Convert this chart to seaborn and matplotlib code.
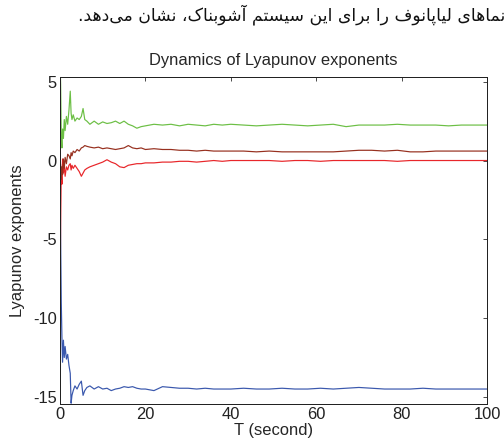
import seaborn as sns
import matplotlib.pyplot as plt
import pandas as pd

# time (s) and the four Lyapunov exponent curves
t = [0, 0.15, 0.3, 0.45, 0.6, 0.8, 1.0, 1.2, 1.5, 1.8,
     2.1, 2.4, 2.6, 2.8, 3.1, 3.5, 4.0, 4.5, 5.0, 5.4,
     5.8, 6.3, 7, 8, 9, 10, 11, 12, 13, 14,
     15, 16, 17, 18, 19, 20, 22, 24, 26, 28,
     30, 32, 34, 36, 38, 40, 43, 46, 49, 52,
     55, 58, 61, 64, 67, 70, 73, 76, 79, 82,
     85, 88, 91, 94, 97, 100]

lambda_1 = [6.5, 4.8, 1.5, 0.8, 2.0, 1.4, 2.6, 1.9, 2.8, 2.3,
            3.2, 4.4, 3.0, 2.6, 2.9, 2.5, 2.7, 2.6, 2.8, 3.3,
            2.6, 2.5, 2.3, 2.5, 2.3, 2.45, 2.35, 2.4, 2.5, 2.35,
            2.5, 2.3, 2.2, 2.05, 2.15, 2.2, 2.3, 2.25, 2.3, 2.2,
            2.3, 2.25, 2.2, 2.3, 2.25, 2.3, 2.25, 2.2, 2.25, 2.3,
            2.25, 2.2, 2.25, 2.3, 2.15, 2.25, 2.25, 2.25, 2.3, 2.25,
            2.25, 2.25, 2.2, 2.25, 2.25, 2.25]

lambda_2 = [0.0, -0.3, -1.2, -0.4, -0.9, 0.1, -0.5, 0.2, -0.2, 0.4,
            0.3, 0.1, 0.5, 0.3, 0.6, 0.5, 0.7, 0.6, 0.8, 0.85,
            0.95, 0.9, 0.85, 0.8, 0.85, 0.75, 0.8, 0.75, 0.7, 0.75,
            0.8, 0.95, 0.8, 0.75, 0.8, 0.7, 0.75, 0.7, 0.7, 0.65,
            0.65, 0.6, 0.65, 0.6, 0.6, 0.6, 0.6, 0.55, 0.6, 0.55,
            0.55, 0.55, 0.55, 0.55, 0.6, 0.65, 0.65, 0.6, 0.65, 0.55,
            0.55, 0.6, 0.6, 0.6, 0.6, 0.6]

lambda_3 = [-9.0, -4.0, -0.5, -1.5, 0.1, -0.8, -0.3, -1.0, -0.4, -0.6,
            -0.3, -0.2, -0.6, -0.3, -0.5, -0.3, -0.5, -0.7, -1.0, -0.8,
            -0.6, -0.5, -0.4, -0.3, -0.2, -0.1, 0.05, -0.1, -0.2, -0.4,
            -0.45, -0.3, -0.25, -0.2, -0.2, -0.15, -0.15, -0.1, -0.1, -0.05,
            -0.05, -0.1, -0.05, 0.0, -0.05, 0.0, 0.0, 0.0, 0.0, -0.05,
            0.0, 0.0, -0.05, 0.0, 0.0, 0.0, 0.0, 0.0, -0.05, 0.0,
            0.0, 0.0, 0.0, 0.0, 0.0, 0.0]

lambda_4 = [0.0, -5.0, -9.0, -11.2, -12.8, -11.4, -12.5, -11.8, -12.6, -12.3,
            -13.0, -13.5, -15.4, -14.9, -14.6, -14.3, -14.5, -14.2, -14.0, -14.9,
            -14.6, -14.4, -14.3, -14.5, -14.35, -14.5, -14.45, -14.6, -14.5, -14.45,
            -14.35, -14.4, -14.35, -14.45, -14.5, -14.5, -14.6, -14.35, -14.4, -14.45,
            -14.45, -14.5, -14.45, -14.5, -14.5, -14.5, -14.45, -14.5, -14.5, -14.45,
            -14.5, -14.5, -14.45, -14.5, -14.45, -14.4, -14.45, -14.5, -14.5, -14.5,
            -14.45, -14.5, -14.5, -14.5, -14.5, -14.5]

colors = ["#3a58ad", "#e8262a", "#97301f", "#6cbf45"]

caption = "نماهای لیاپانوف را برای این سیستم آشوبناک، نشان می\u200cدهد."

# Arabic/Persian letter forms: isolated, final, initial, medial
forms = {
    "ا": ("\uFE8D", "\uFE8E", None, None),
    "آ": ("\uFE81", "\uFE82", None, None),
    "د": ("\uFEA9", "\uFEAA", None, None),
    "ر": ("\uFEAD", "\uFEAE", None, None),
    "و": ("\uFEED", "\uFEEE", None, None),
    "ب": ("\uFE8F", "\uFE90", "\uFE91", "\uFE92"),
    "پ": ("\uFB56", "\uFB57", "\uFB58", "\uFB59"),
    "ت": ("\uFE95", "\uFE96", "\uFE97", "\uFE98"),
    "س": ("\uFEB1", "\uFEB2", "\uFEB3", "\uFEB4"),
    "ش": ("\uFEB5", "\uFEB6", "\uFEB7", "\uFEB8"),
    "ف": ("\uFED1", "\uFED2", "\uFED3", "\uFED4"),
    "ک": ("\uFB8E", "\uFB8F", "\uFB90", "\uFB91"),
    "ل": ("\uFEDD", "\uFEDE", "\uFEDF", "\uFEE0"),
    "م": ("\uFEE1", "\uFEE2", "\uFEE3", "\uFEE4"),
    "ن": ("\uFEE5", "\uFEE6", "\uFEE7", "\uFEE8"),
    "ه": ("\uFEE9", "\uFEEA", "\uFEEB", "\uFEEC"),
    "ی": ("\uFBFC", "\uFBFD", "\uFBFE", "\uFBFF"),
}


def shape_rtl(text):
    out = []
    for i, c in enumerate(text):
        if c == "\u200c":
            continue
        if c not in forms:
            out.append(c)
            continue
        prev = text[i - 1] if i > 0 else ""
        nxt = text[i + 1] if i + 1 < len(text) else ""
        join_prev = prev in forms and forms[prev][2] is not None
        join_next = nxt in forms and forms[c][2] is not None
        iso, fin, ini, med = forms[c]
        if join_prev and join_next:
            out.append(med)
        elif join_prev:
            out.append(fin)
        elif join_next:
            out.append(ini)
        else:
            out.append(iso)
    return "".join(reversed(out))


df = pd.DataFrame({"t": t, "l1": lambda_1, "l2": lambda_2, "l3": lambda_3, "l4": lambda_4})

sns.set_theme(style="white")
plt.rcParams["font.family"] = ["Liberation Sans", "DejaVu Sans"]
plt.rcParams["axes.unicode_minus"] = False

fig = plt.figure(figsize=(7, 444 / 72), dpi=72)
ax = fig.add_axes([60 / 504, 1 - 404 / 444, 427 / 504, 327 / 444])

for col, c in zip(["l4", "l3", "l2", "l1"], colors):
    sns.lineplot(data=df, x="t", y=col, color=c, linewidth=1.2, ax=ax)

ax.set_xlim(0, 100)
ax.set_ylim(-15.45, 5.3)
ax.set_xticks([0, 20, 40, 60, 80, 100])
ax.set_yticks([5, 0, -5, -10, -15])
ax.tick_params(direction="in", length=4, width=0.8, labelsize=16.5, colors="#222222",
               top=True, right=True, pad=3)
for s in ax.spines.values():
    s.set_color("#222222")
    s.set_linewidth(1.0)
ax.set_xlabel("T (second)", fontsize=16.5, labelpad=1)
ax.set_ylabel("Lyapunov exponents", fontsize=16.5, labelpad=8)
ax.set_title("Dynamics of Lyapunov exponents", fontsize=16.5, pad=12)

fig.text(1.002, 1 - 15 / 444, shape_rtl(caption), ha="right", va="center",
         fontsize=17.3, family=["DejaVu Sans"], color="#111111")

fig.savefig("out.png", dpi=72)
